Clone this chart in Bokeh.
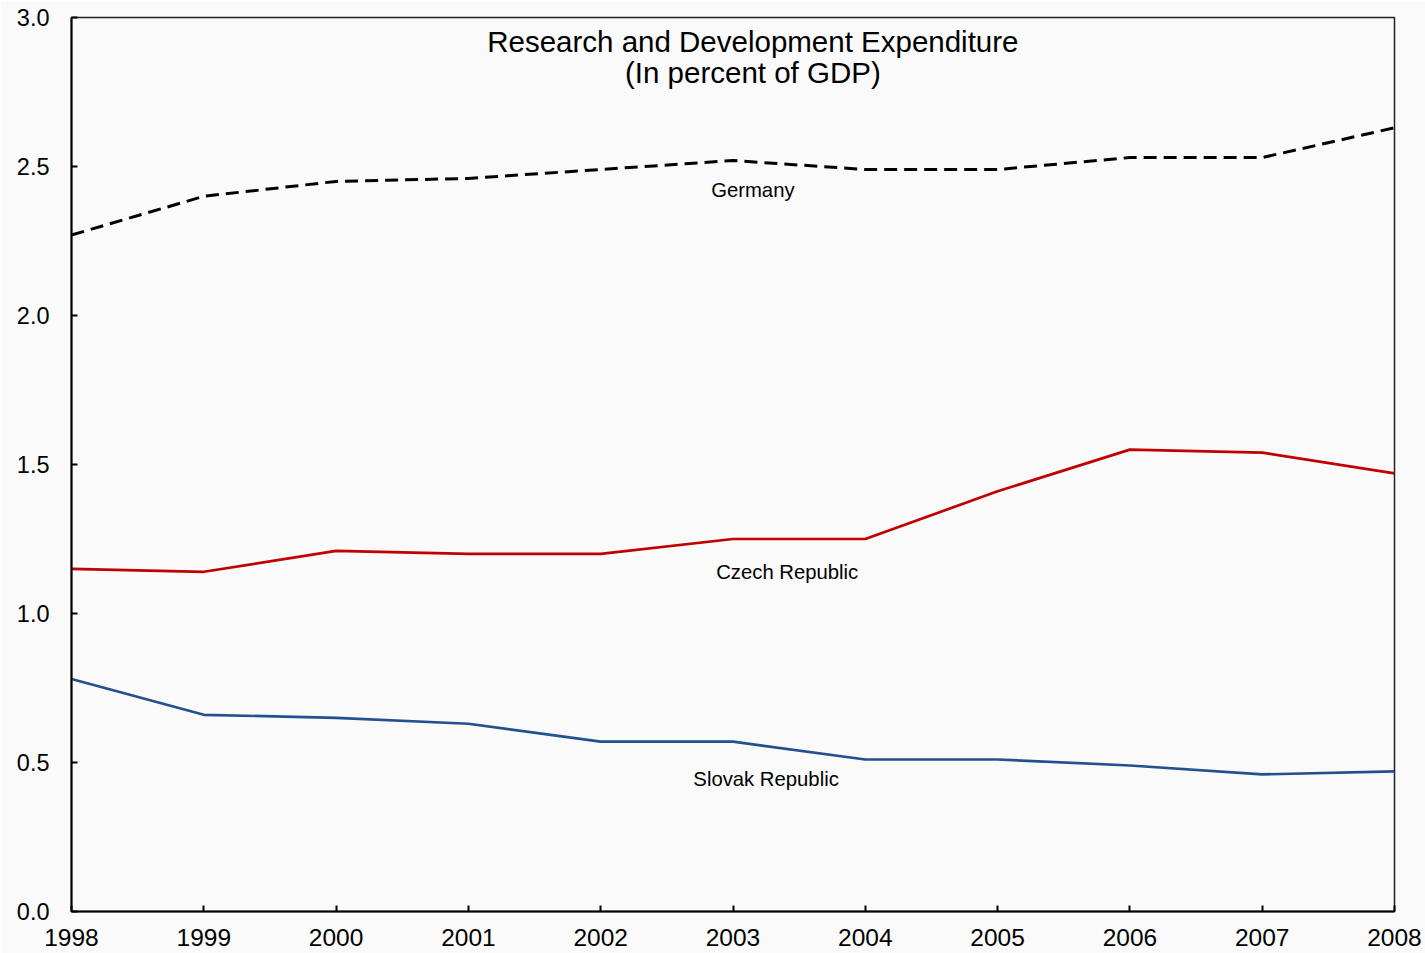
from bokeh.plotting import figure
from bokeh.models import Range1d, FixedTicker, Label, PrintfTickFormatter
from bokeh.embed import file_html
from bokeh.resources import INLINE

years = [1998, 1999, 2000, 2001, 2002, 2003, 2004, 2005, 2006, 2007, 2008]
germany = [2.27, 2.40, 2.45, 2.46, 2.49, 2.52, 2.49, 2.49, 2.53, 2.53, 2.63]
czech = [1.15, 1.14, 1.21, 1.20, 1.20, 1.25, 1.25, 1.41, 1.55, 1.54, 1.47]
slovak = [0.78, 0.66, 0.65, 0.63, 0.57, 0.57, 0.51, 0.51, 0.49, 0.46, 0.47]
y_ticks = [0.0, 0.5, 1.0, 1.5, 2.0, 2.5, 3.0]
title_lines = ["Research and Development Expenditure", "(In percent of GDP)"]

FONT = "Liberation Sans"
BG = "#FAFAFA"

p = figure(width=1425, height=953, output_backend="svg", toolbar_location=None,
           x_range=Range1d(1998, 2008), y_range=Range1d(0, 3.0),
           min_border_left=71, min_border_right=31, min_border_top=17, min_border_bottom=42,
           background_fill_color=BG, border_fill_color=BG)
p.frame_width = 1323
p.frame_height = 894
p.grid.visible = False
p.outline_line_color = "#222222"
p.outline_line_width = 1.5

for ax in (p.xaxis[0], p.yaxis[0]):
    ax.axis_line_color = "black"
    ax.axis_line_width = 2
    ax.major_tick_in = 6
    ax.major_tick_out = 0
    ax.minor_tick_line_color = None
    ax.major_tick_line_color = "black"
    ax.major_tick_line_width = 2
    ax.major_label_text_font = FONT
    ax.major_label_text_color = "black"

p.xaxis.major_label_text_font_size = "24.5px"
p.yaxis.major_label_text_font_size = "23.5px"
p.xaxis.ticker = FixedTicker(ticks=years)
p.xaxis.major_label_standoff = 17
p.yaxis.ticker = FixedTicker(ticks=y_ticks)
p.yaxis.formatter = PrintfTickFormatter(format="%.1f")
p.yaxis.major_label_standoff = 22

p.line(years, germany, line_color="black", line_width=3, line_dash="13 7")
p.line(years, czech, line_color="#C00000", line_width=2.7)
p.line(years, slovak, line_color="#23508E", line_width=2.7)

for i, t in enumerate(title_lines):
    p.add_layout(Label(x=2003.15, y=2.92 - i * 0.105, text=t, text_align="center",
                       text_baseline="middle", text_font=FONT, text_font_size="29.5px",
                       text_color="black"))

for name, xx, yy in [("Germany", 2003.15, 2.42), ("Czech Republic", 2003.41, 1.14),
                     ("Slovak Republic", 2003.25, 0.443)]:
    p.add_layout(Label(x=xx, y=yy, text=name, text_align="center", text_baseline="middle",
                       text_font=FONT, text_font_size="20.3px", text_color="black"))

open("out.html", "w").write(file_html(p, INLINE))
